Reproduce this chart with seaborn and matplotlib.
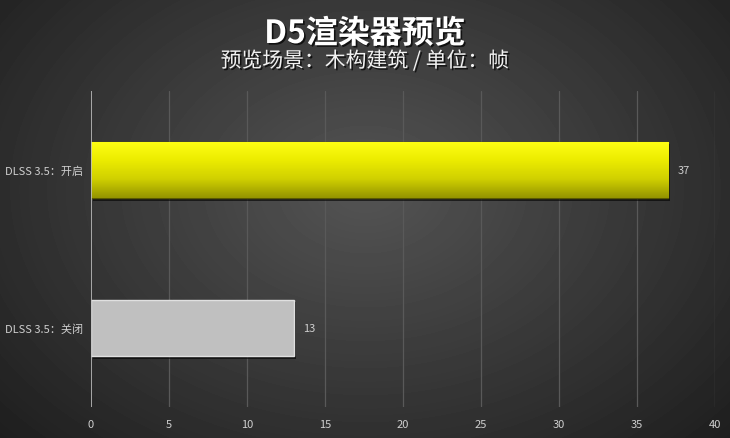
import numpy as np
import pandas as pd
import matplotlib
matplotlib.use('Agg')
import matplotlib.pyplot as plt
import matplotlib.patheffects as pe
from matplotlib.colors import LinearSegmentedColormap
import seaborn as sns

# data
categories = ['DLSS 3.5：开启', 'DLSS 3.5：关闭']
fps = [37, 13]
x_ticks = [0, 5, 10, 15, 20, 25, 30, 35, 40]

title = 'D5渲染器预览'
subtitle = '预览场景：木构建筑 / 单位：帧'

sns.set_style('dark')
plt.rcParams['font.family'] = ['Noto Sans CJK SC', 'DejaVu Sans']

fig = plt.figure(figsize=(7.3, 4.39), dpi=100)

# radial gradient background
bg = fig.add_axes([0, 0, 1, 1], zorder=-10)
yy, xx = np.mgrid[0:439, 0:730]
r = np.sqrt(((xx - 365) / 520.0) ** 2 + ((yy - 190) / 380.0) ** 2)
shade = np.clip(0.33 - 0.22 * r, 0.11, 0.36)
bg.imshow(shade, cmap='gray', vmin=0, vmax=1, aspect='auto', interpolation='bilinear')
bg.axis('off')

ax = fig.add_axes([91 / 730, 1 - 408 / 439, (715 - 91) / 730, (408 - 92) / 439])
ax.patch.set_alpha(0)

df = pd.DataFrame({'label': categories, 'fps': fps})
sns.barplot(data=df, y='label', x='fps', orient='h', width=0.36,
            color='#c0c0c0', ax=ax, zorder=3)

ax.set_xlim(0, 40)
ax.set_ylim(1.5, -0.5)
ax.set_xticks(x_ticks)
ax.set_xlabel('')
ax.set_ylabel('')
for s in ax.spines.values():
    s.set_visible(False)
ax.grid(False)
for t in x_ticks[1:]:
    ax.axvline(t, color='#595959', lw=0.9, zorder=1)
ax.axvline(0, color='#bdbdbd', lw=1.2, zorder=4)
ax.tick_params(axis='both', length=0, colors='#cfcfcf', labelsize=8)
ax.tick_params(axis='y', pad=6)
ax.tick_params(axis='x', pad=9)

shadow = [pe.SimplePatchShadow(offset=(1.5, -1.5), shadow_rgbFace='black', alpha=0.6), pe.Normal()]
yellow = LinearSegmentedColormap.from_list('yl', ['#ffff14', '#ecec00', '#d0d000', '#959500'])
for i, bar in enumerate(ax.patches):
    bar.set_path_effects(shadow)
    x0, y0 = bar.get_x(), bar.get_y()
    w, h = bar.get_width(), bar.get_height()
    if i == 0:
        bar.set_facecolor('#e6e600')
        bar.set_edgecolor('#5a5a00')
        bar.set_linewidth(1.0)
        grad = np.linspace(0, 1, 100).reshape(-1, 1)
        im = ax.imshow(grad, cmap=yellow, aspect='auto', extent=(x0, x0 + w, y0 + h, y0),
                       zorder=3.5, interpolation='bilinear')
        im.set_clip_path(bar)
    else:
        bar.set_facecolor('#c0c0c0')
        bar.set_edgecolor('#e0e0e0')
        bar.set_linewidth(1.0)
    ax.text(x0 + w + 0.6, y0 + h / 2, str(fps[i]), va='center', ha='left',
            fontsize=8, color='#cfcfcf', zorder=5)
ax.set_xlim(0, 40)
ax.set_ylim(1.5, -0.5)

txt_shadow = [pe.withSimplePatchShadow(offset=(1.2, -1.2), shadow_rgbFace='black', alpha=0.7)]
fig.text(0.5, 1 - 35 / 439, title, ha='center', va='center', fontsize=23,
         fontweight='bold', color='white', path_effects=txt_shadow)
fig.text(0.5, 1 - 62 / 439, subtitle, ha='center', va='center', fontsize=15,
         color='#f2f2f2', path_effects=txt_shadow)

fig.savefig('out.png', dpi=100)
